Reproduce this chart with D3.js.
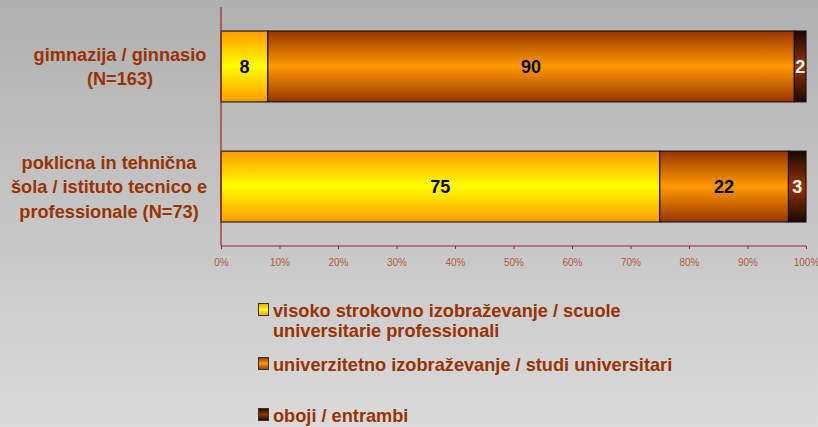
<!DOCTYPE html>
<html>
<head>
<meta charset="utf-8">
<script src="https://cdn.jsdelivr.net/npm/d3@7"></script>
<style>
  html, body { margin: 0; padding: 0; }
  body { width: 818px; height: 427px; overflow: hidden; }
  svg { display: block; font-family: "Liberation Sans", Arial, sans-serif; }
</style>
</head>
<body>
<div id="chart"></div>
<script>
// data
var categories = [
    ["gimnazija / ginnasio", "(N=163)"],
    ["poklicna in tehnična", "šola / istituto tecnico e", "professionale (N=73)"]
];
var seriesNames = [
    ["visoko strokovno izobraževanje / scuole", "universitarie professionali"],
    ["univerzitetno izobraževanje / studi universitari"],
    ["oboji / entrambi"]
];
var visoko = [8, 75];
var univerzitetno = [90, 22];
var oboji = [2, 3];
var tickLabels = ["0%", "10%", "20%", "30%", "40%", "50%", "60%", "70%", "80%", "90%", "100%"];

var W = 818, H = 427;
var plot = { left: 221, right: 806, top: 7, bottom: 246 };
var textColor = "#993300";
var labelFont = 18.2;

var svg = d3.select("#chart").append("svg")
    .attr("width", W)
    .attr("height", H);

var defs = svg.append("defs");
var bg = defs.append("linearGradient").attr("id", "bg")
    .attr("x1", 0).attr("y1", 0).attr("x2", 0).attr("y2", 1);
bg.append("stop").attr("offset", "0%").attr("stop-color", "#b0b0b0");
bg.append("stop").attr("offset", "100%").attr("stop-color", "#dadada");

// bar gradients: dark at edges, bright in the middle
var grads = [
    { id: "g0", edge: "#ff9900", mid: "#ffff00", text: "#000" },
    { id: "g1", edge: "#993300", mid: "#ff9900", text: "#000" },
    { id: "g2", edge: "#1a0800", mid: "#993300", text: "#fff" }
];
grads.forEach(function (g) {
    var lg = defs.append("linearGradient").attr("id", g.id)
        .attr("x1", 0).attr("y1", 0).attr("x2", 0).attr("y2", 1);
    lg.append("stop").attr("offset", "0%").attr("stop-color", g.edge);
    lg.append("stop").attr("offset", "50%").attr("stop-color", g.mid);
    lg.append("stop").attr("offset", "100%").attr("stop-color", g.edge);
});

svg.append("rect").attr("width", W).attr("height", H).attr("fill", "url(#bg)");

var x = d3.scaleLinear().domain([0, 100]).range([plot.left, plot.right]);
var y = d3.scaleBand().domain([0, 1]).range([plot.top, plot.bottom])
    .paddingInner(0.41).paddingOuter(0.2);

// stacked data
var table = categories.map(function (c, i) {
    return { i: i, v: [visoko[i], univerzitetno[i], oboji[i]] };
});
var stack = d3.stack().keys([0, 1, 2]).value(function (d, k) { return d.v[k]; });
var layers = stack(table);

var barG = svg.append("g");
layers.forEach(function (layer, k) {
    layer.forEach(function (seg, i) {
        var x0 = x(seg[0]), x1 = x(seg[1]);
        barG.append("rect")
            .attr("x", x0)
            .attr("y", y(i))
            .attr("width", x1 - x0)
            .attr("height", y.bandwidth())
            .attr("fill", "url(#" + grads[k].id + ")")
            .attr("stroke", "#111")
            .attr("stroke-width", 1.1);
        barG.append("text")
            .attr("x", (x0 + x1) / 2)
            .attr("y", y(i) + y.bandwidth() / 2)
            .attr("dy", "0.36em")
            .attr("text-anchor", "middle")
            .attr("font-weight", "bold")
            .attr("font-size", 18)
            .attr("fill", grads[k].text)
            .text(table[i].v[k]);
    });
});

// axes
var axisColor = "#a0202a";
svg.append("line")
    .attr("x1", plot.left).attr("x2", plot.left)
    .attr("y1", plot.top).attr("y2", plot.bottom)
    .attr("stroke", axisColor).attr("stroke-width", 1.2);

var xAxis = d3.axisBottom(x)
    .tickValues(d3.range(0, 101, 10))
    .tickFormat(function (d, i) { return tickLabels[i]; })
    .tickSize(3)
    .tickPadding(10);
var xg = svg.append("g")
    .attr("transform", "translate(0," + plot.bottom + ")")
    .call(xAxis);
xg.select(".domain").attr("stroke", axisColor).attr("stroke-width", 1.2)
    .attr("d", "M" + plot.left + ",0H" + plot.right);
xg.selectAll(".tick line").attr("stroke", axisColor).attr("stroke-width", 1);
xg.selectAll(".tick text")
    .attr("fill", "#b05a35")
    .attr("font-size", 10)
    .attr("font-family", "Liberation Sans, Arial, sans-serif");

// category labels
var labelCenters = [120, 109];
categories.forEach(function (lines, i) {
    var cy = y(i) + y.bandwidth() / 2;
    var lh = 24.5;
    var t = svg.append("text")
        .attr("text-anchor", "middle")
        .attr("font-weight", "bold")
        .attr("font-size", labelFont)
        .attr("fill", textColor);
    lines.forEach(function (s, j) {
        t.append("tspan")
            .attr("x", labelCenters[i])
            .attr("y", cy + (j - (lines.length - 1) / 2) * lh)
            .attr("dy", "0.36em")
            .text(s);
    });
});

// legend
var legendY = [310, 364, 415];
var legend = svg.append("g");
seriesNames.forEach(function (lines, k) {
    legend.append("rect")
        .attr("x", 258.5).attr("y", legendY[k] - 6.5)
        .attr("width", 10).attr("height", 12)
        .attr("fill", "url(#" + grads[k].id + ")")
        .attr("stroke", "#333").attr("stroke-width", 1);
    var t = legend.append("text")
        .attr("font-weight", "bold")
        .attr("font-size", labelFont)
        .attr("fill", textColor);
    lines.forEach(function (s, j) {
        t.append("tspan")
            .attr("x", 273)
            .attr("y", legendY[k] + j * 20)
            .attr("dy", "0.36em")
            .text(s);
    });
});
</script>
</body>
</html>
